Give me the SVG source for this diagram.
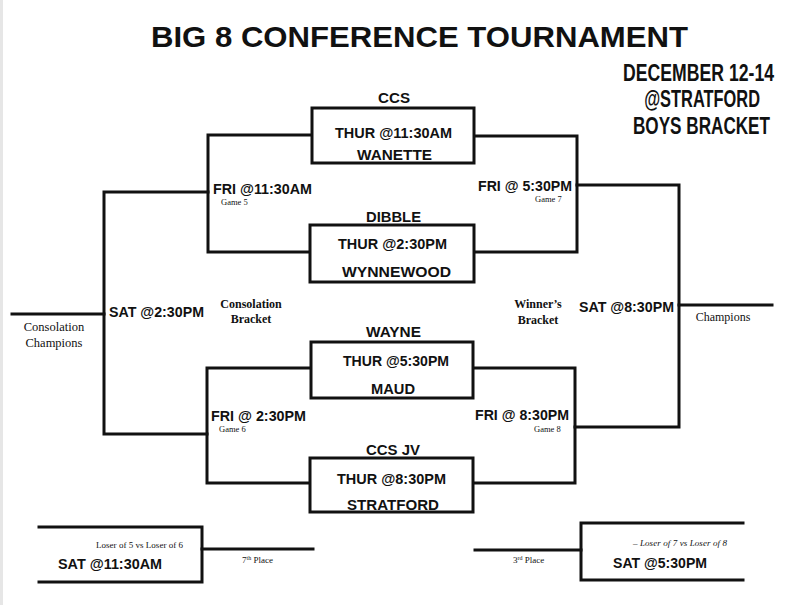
<svg xmlns="http://www.w3.org/2000/svg" width="792" height="605" viewBox="0 0 792 605">
<style>
.ln{fill:none;stroke:#111;stroke-width:3;stroke-linecap:square;stroke-linejoin:miter}
.bx{fill:#fff;stroke:#111;stroke-width:3}
.b{font-family:"Liberation Sans",Arial,sans-serif;font-weight:bold;font-size:14px;fill:#111}
.h{font-family:"Liberation Sans",Arial,sans-serif;font-weight:bold;fill:#111}
.s{font-family:"Liberation Serif","Times New Roman",serif;fill:#111}
.sb{font-family:"Liberation Serif","Times New Roman",serif;font-weight:bold;font-size:12px;fill:#111}
.g{font-family:"Liberation Serif","Times New Roman",serif;font-size:8.5px;fill:#111}
</style>
<rect x="0" y="0" width="792" height="605" fill="#fff"/>
<rect x="0" y="0" width="3" height="605" fill="#e6e6e6"/>

<g id="header">
<text class="h" x="151" y="47" font-size="30" textLength="537" lengthAdjust="spacingAndGlyphs">BIG 8 CONFERENCE TOURNAMENT</text>
<text class="h" transform="translate(774,81) scale(0.767,1)" font-size="23" text-anchor="end">DECEMBER 12-14</text>
<text class="h" transform="translate(760,107) scale(0.713,1)" font-size="23" text-anchor="end">@STRATFORD</text>
<text class="h" transform="translate(770,134) scale(0.745,1)" font-size="23" text-anchor="end">BOYS BRACKET</text>
</g>

<g id="connectors">
<path class="ln" d="M312,135 H208 V252 H310"/>
<path class="ln" d="M474,136 H577 V252 H474"/>
<path class="ln" d="M311,368 H207 V483 H310"/>
<path class="ln" d="M473,368 H575 V483 H473"/>
<path class="ln" d="M208,192 H104 V434 H207"/>
<path class="ln" d="M104,314 H12"/>
<path class="ln" d="M577,185 H679 V427 H575"/>
<path class="ln" d="M679,305 H772"/>
<path class="ln" d="M39,527 H202 V582 H39"/>
<path class="ln" d="M202,549 H313"/>
<path class="ln" d="M743,523 H581 V580 H743"/>
<path class="ln" d="M581,550 H475"/>
</g>

<g id="game1">
<rect class="bx" x="312" y="108" width="162" height="55"/>
<text class="b" x="378" y="103" textLength="32" lengthAdjust="spacingAndGlyphs">CCS</text>
<text class="b" x="335" y="138" textLength="117" lengthAdjust="spacingAndGlyphs">THUR @11:30AM</text>
<text class="b" x="357" y="160" textLength="75" lengthAdjust="spacingAndGlyphs">WANETTE</text>
</g>

<g id="game2">
<rect class="bx" x="310" y="225" width="164" height="57"/>
<text class="b" x="366" y="222" textLength="55" lengthAdjust="spacingAndGlyphs">DIBBLE</text>
<text class="b" x="338" y="249" textLength="109" lengthAdjust="spacingAndGlyphs">THUR @2:30PM</text>
<text class="b" x="342" y="277" textLength="109" lengthAdjust="spacingAndGlyphs">WYNNEWOOD</text>
</g>

<g id="game3">
<rect class="bx" x="311" y="342" width="162" height="56"/>
<text class="b" x="366" y="337" textLength="55" lengthAdjust="spacingAndGlyphs">WAYNE</text>
<text class="b" x="343" y="366" textLength="106" lengthAdjust="spacingAndGlyphs">THUR @5:30PM</text>
<text class="b" x="371" y="394" textLength="44" lengthAdjust="spacingAndGlyphs">MAUD</text>
</g>

<g id="game4">
<rect class="bx" x="310" y="458" width="163" height="54"/>
<text class="b" x="366" y="455" textLength="54" lengthAdjust="spacingAndGlyphs">CCS JV</text>
<text class="b" x="337" y="484" textLength="109" lengthAdjust="spacingAndGlyphs">THUR @8:30PM</text>
<text class="b" x="347" y="510" textLength="92" lengthAdjust="spacingAndGlyphs">STRATFORD</text>
</g>

<g id="game5">
<text class="b" x="213" y="194" textLength="99" lengthAdjust="spacingAndGlyphs">FRI @11:30AM</text>
<text class="g" x="221" y="205">Game 5</text>
</g>

<g id="game6">
<text class="b" x="211" y="421" textLength="95" lengthAdjust="spacingAndGlyphs">FRI @ 2:30PM</text>
<text class="g" x="219" y="432">Game 6</text>
</g>

<g id="game7">
<text class="b" x="478" y="191" textLength="94" lengthAdjust="spacingAndGlyphs">FRI @ 5:30PM</text>
<text class="g" x="535" y="202">Game 7</text>
</g>

<g id="game8">
<text class="b" x="475" y="420" textLength="94" lengthAdjust="spacingAndGlyphs">FRI @ 8:30PM</text>
<text class="g" x="534" y="432">Game 8</text>
</g>

<g id="consolation-final">
<text class="b" x="109" y="317" textLength="95" lengthAdjust="spacingAndGlyphs">SAT @2:30PM</text>
<text class="sb" x="251" y="308" text-anchor="middle">Consolation</text>
<text class="sb" x="251" y="323" text-anchor="middle">Bracket</text>
</g>

<g id="consolation-champions">
<text class="s" x="54" y="331" font-size="12.5" text-anchor="middle">Consolation</text>
<text class="s" x="54" y="347" font-size="12.5" text-anchor="middle">Champions</text>
</g>

<g id="championship">
<text class="b" x="579" y="312" textLength="95" lengthAdjust="spacingAndGlyphs">SAT @8:30PM</text>
<text class="sb" x="538" y="308" text-anchor="middle">Winner’s</text>
<text class="sb" x="538" y="324" text-anchor="middle">Bracket</text>
</g>

<g id="champions">
<text class="s" x="723" y="321" font-size="12" text-anchor="middle">Champions</text>
</g>

<g id="seventh-place">
<text class="s" x="96" y="548" font-size="9" textLength="87">Loser of 5 vs Loser of 6</text>
<text class="b" x="58" y="569" textLength="104" lengthAdjust="spacingAndGlyphs">SAT @11:30AM</text>
<text class="s" x="242" y="563" font-size="9">7<tspan font-size="6" dy="-3">th</tspan><tspan dy="3"> Place</tspan></text>
</g>

<g id="third-place">
<text class="s" x="633" y="546" font-size="9" font-style="italic" textLength="94">– Loser of 7 vs Loser of 8</text>
<text class="b" x="613" y="568" textLength="94" lengthAdjust="spacingAndGlyphs">SAT @5:30PM</text>
<text class="s" x="513" y="563" font-size="9">3<tspan font-size="6" dy="-3">rd</tspan><tspan dy="3"> Place</tspan></text>
</g>
</svg>
